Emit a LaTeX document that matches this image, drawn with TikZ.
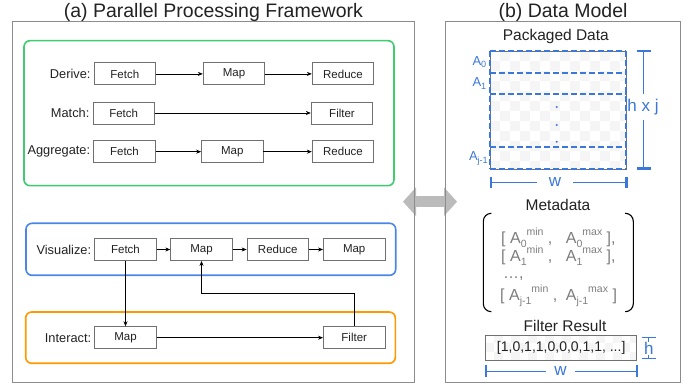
\documentclass[tikz,border=0pt]{standalone}
\usepackage{fontspec}
\setmainfont{Liberation Sans}
\usetikzlibrary{arrows.meta, positioning}
\definecolor{mygreen}{RGB}{62,204,112}
\definecolor{myblue}{RGB}{74,134,232}
\definecolor{myorange}{RGB}{255,153,0}
\definecolor{dimblue}{RGB}{60,120,216}
\definecolor{boxgray}{RGB}{112,112,112}
\definecolor{panelgray}{RGB}{140,140,140}
\definecolor{metagray}{RGB}{125,125,125}
\definecolor{chkgray}{RGB}{245,245,245}
\definecolor{arrgray}{RGB}{187,187,187}
\definecolor{inkdark}{RGB}{34,34,34}
\newcommand{\fsz}[1]{\fontsize{#1}{#1}\selectfont}
\newcommand{\Arng}[2]{A\raisebox{-3.5pt}{\fsz{10.5}#1}\raisebox{8.5pt}{\fsz{10.5}#2}}
% checker fill: x0, y0, x1, y1, square size
\newcommand{\chkfill}[5]{%
  \begin{scope}
    \clip (#1,#2) rectangle (#3,#4);
    \fill[white] (#1,#2) rectangle (#3,#4);
    \foreach \i in {0,...,20}{\foreach \j in {0,...,15}{
      \pgfmathtruncatemacro{\chkodd}{mod(\i+\j,2)}
      \ifnum\chkodd=1 \fill[chk] ({#1+\i*#5},{#2+\j*#5}) rectangle ++(#5,#5);\fi}}
  \end{scope}}
\tikzset{
  panel/.style={rectangle, draw=panelgray, line width=1pt, inner sep=0pt, outer sep=0pt},
  titletext/.style={font=\fsz{19.5}, inner sep=0pt, text=inkdark},
  group/.style={rounded corners=6pt, line width=1.6pt},
  procbox/.style={rectangle, draw=boxgray, fill=white, minimum width=61.5pt,
    minimum height=22pt, inner sep=0pt, font=\fsz{11.5}, text=inkdark, line width=0.8pt},
  rowlabel/.style={inner sep=1pt, font=\fsz{12.8}, text=inkdark},
  flow/.style={-{Stealth[length=5pt,width=4pt]}, line width=0.7pt, color=black},
  heading/.style={font=\fsz{15.5}, inner sep=0pt, anchor=base, text=inkdark},
  dimtext/.style={text=dimblue, font=\fsz{17}, fill=white},
  dimline/.style={dimblue, line width=1pt},
  dimcap/.style={dimblue, line width=2.5pt},
  rowdash/.style={dimblue, line width=1.8pt, dash pattern=on 6pt off 3pt},
  attrlabel/.style={text=dimblue, font=\fsz{13}, inner sep=0pt, anchor=east},
  metarow/.style={text=metagray, font=\fsz{16}, inner sep=0pt, anchor=base west},
  paren/.style={black, line width=1.1pt, rounded corners=8pt},
  bigarrow/.style={arrgray, line width=11pt,
    {Triangle[length=13pt,width=28pt]}-{Triangle[length=13pt,width=28pt]}},
  chk/.style={fill=chkgray}
}

\begin{document}
\begin{tikzpicture}[x=1pt, y=-1pt]
  \useasboundingbox (0,0) rectangle (694,387);

  % Link between the two panels
  \coordinate (arrL) at (403,201.7);
  \coordinate (arrR) at (457,201.7);
  \draw[bigarrow] (arrL) -- (arrR);

  % Panels and titles
  \node[panel, minimum width=401.3pt, minimum height=360.3pt] (panelA) at (213.35,202.15) {};
  \node[panel, minimum width=234.6pt, minimum height=360.7pt] (panelB) at (563,202.35) {};
  \node[titletext, above=0pt of panelA] (titleA) {(a) Parallel Processing Framework};
  \node[titletext, above=0pt of panelB] (titleB) {(b) Data Model};

  % Groups
  \draw[group, draw=mygreen] (24,40.7) rectangle (394,185.7);
  \draw[group, draw=myblue] (26,223.3) rectangle (395.7,275.3);
  \draw[group, draw=myorange] (25.7,312) rectangle (395.3,363.3);

  % Derive
  \node[procbox] (dfetch) at (124.8,73.9) {Fetch};
  \node[procbox] (dmap) at (234,73.9) {Map};
  \node[procbox] (dreduce) at (343,73.9) {Reduce};
  \node[rowlabel, left=2pt of dfetch] (dlabel) {Derive:};
  \draw[flow] (dfetch) -- (dmap);
  \draw[flow] (dmap) -- (dreduce);

  % Match
  \node[procbox] (mfetch) at (123.7,113) {Fetch};
  \node[procbox] (mfilter) at (342,113) {Filter};
  \node[rowlabel, left=2pt of mfetch] (mlabel) {Match:};
  \draw[flow] (mfetch) -- (mfilter);

  % Aggregate
  \node[procbox] (afetch) at (124.5,151.7) {Fetch};
  \node[procbox] (amap) at (232.3,151.7) {Map};
  \node[procbox] (areduce) at (343,151.7) {Reduce};
  \node[rowlabel, left=2pt of afetch] (alabel) {Aggregate:};
  \draw[flow] (afetch) -- (amap);
  \draw[flow] (amap) -- (areduce);

  % Visualize
  \node[procbox] (vfetch) at (125.5,249.5) {Fetch};
  \node[procbox] (vmap) at (201.5,249.5) {Map};
  \node[procbox] (vreduce) at (277.8,249.5) {Reduce};
  \node[procbox] (vmapb) at (354.2,249.5) {Map};
  \node[rowlabel, left=2pt of vfetch] (vlabel) {Visualize:};
  \draw[flow] (vfetch) -- (vmap);
  \draw[flow] (vmap) -- (vreduce);
  \draw[flow] (vreduce) -- (vmapb);

  % Interact
  \node[procbox] (imap) at (125.5,337.7) {Map};
  \node[procbox] (ifilter) at (354.2,337.7) {Filter};
  \node[rowlabel, left=2pt of imap] (ilabel) {Interact:};
  \draw[flow] (imap) -- (ifilter);
  \draw[flow] (vfetch) -- (imap);
  \draw[flow] (ifilter.north) -- ++(0,-33.4) -| (vmap.south);

  % Packaged data
  \node[heading] (pkgtitle) at (555.8,40.5) {Packaged Data};
  \chkfill{490}{51}{626}{169.3}{10}
  \draw[boxgray, line width=0.8pt] (490,51) rectangle (626,169.3);
  \foreach \y in {51,72.7,94.3,147.3,169.3}
    \draw[rowdash] (490,\y) -- (626,\y);
  \draw[rowdash] (490,51) -- (490,169.3);
  \draw[rowdash] (626,51) -- (626,169.3);
  \node[attrlabel] (attr0) at (487,61.7) {A\textsubscript{0}};
  \node[attrlabel] (attr1) at (487,83.5) {A\textsubscript{1}};
  \node[attrlabel] (attrj) at (488.5,158.3) {A\textsubscript{j-1}};
  \foreach \y in {107,125,141.7}
    \fill[dimblue] (556.7,\y) circle (1.1pt);

  % h x j and w
  \draw[dimline] (643.3,51) -- (643.3,168.3);
  \draw[dimcap] (637,51) -- (650.7,51);
  \draw[dimcap] (637,168.3) -- (650.7,168.3);
  \node[dimtext, inner xsep=0.5pt, inner ysep=5pt] (hjlabel) at (643,107) {h x j};
  \draw[dimline] (491,182.3) -- (626.7,182.3);
  \draw[dimcap] (491,176.7) -- (491,188.3);
  \draw[dimcap] (626.7,176.7) -- (626.7,188.3);
  \node[dimtext, inner xsep=12pt, inner ysep=1pt] (wlabel) at (555,182.5) {w};

  % Metadata
  \node[heading] (metatitle) at (558,211) {Metadata};
  \draw[paren] (491,213.3) -- (483.3,213.3) -- (483.3,311.7) -- (491,311.7);
  \draw[paren] (625,213.3) -- (633.3,213.3) -- (633.3,311.7) -- (625,311.7);
  \node[metarow] (mrow1) at (501,244) {\makebox[64.7pt][l]{[ \Arng{0}{min} ,}\Arng{0}{max} ],};
  \node[metarow] (mrow2) at (501,262) {\makebox[64.7pt][l]{[ \Arng{1}{min} ,}\Arng{1}{max} ],};
  \node[metarow] (mrow3) at (503,279) {\ldots,};
  \node[metarow] (mrow4) at (500,301) {\makebox[65.7pt][l]{[ \Arng{j-1}{min} ,}\Arng{j-1}{max} ]};

  % Filter result
  \node[heading] (frtitle) at (565,331.7) {Filter Result};
  \chkfill{485.7}{335}{636.7}{360.7}{8.5}
  \node[draw=boxgray, line width=0.8pt, minimum width=151pt, minimum height=25.7pt,
    inner sep=0pt, font=\fsz{14}, text=inkdark] (fresult) at (561.2,347.85) {[1,0,1,1,0,0,0,1,1, ...]};
  \draw[dimline] (648.8,337.7) -- (648.8,359);
  \draw[dimline] (641.7,337.7) -- (656,337.7);
  \draw[dimline] (641.7,359) -- (656,359);
  \node[dimtext, inner xsep=1pt, inner ysep=0.5pt] (hlabel) at (648.8,348.5) {h};
  \draw[dimline] (486,371.7) -- (637,371.7);
  \draw[dimcap] (486,365.5) -- (486,377.5);
  \draw[dimcap] (637,365.5) -- (637,377.5);
  \node[dimtext, inner xsep=8pt, inner ysep=1pt] (w2label) at (560.5,371) {w};
\end{tikzpicture}
\end{document}
